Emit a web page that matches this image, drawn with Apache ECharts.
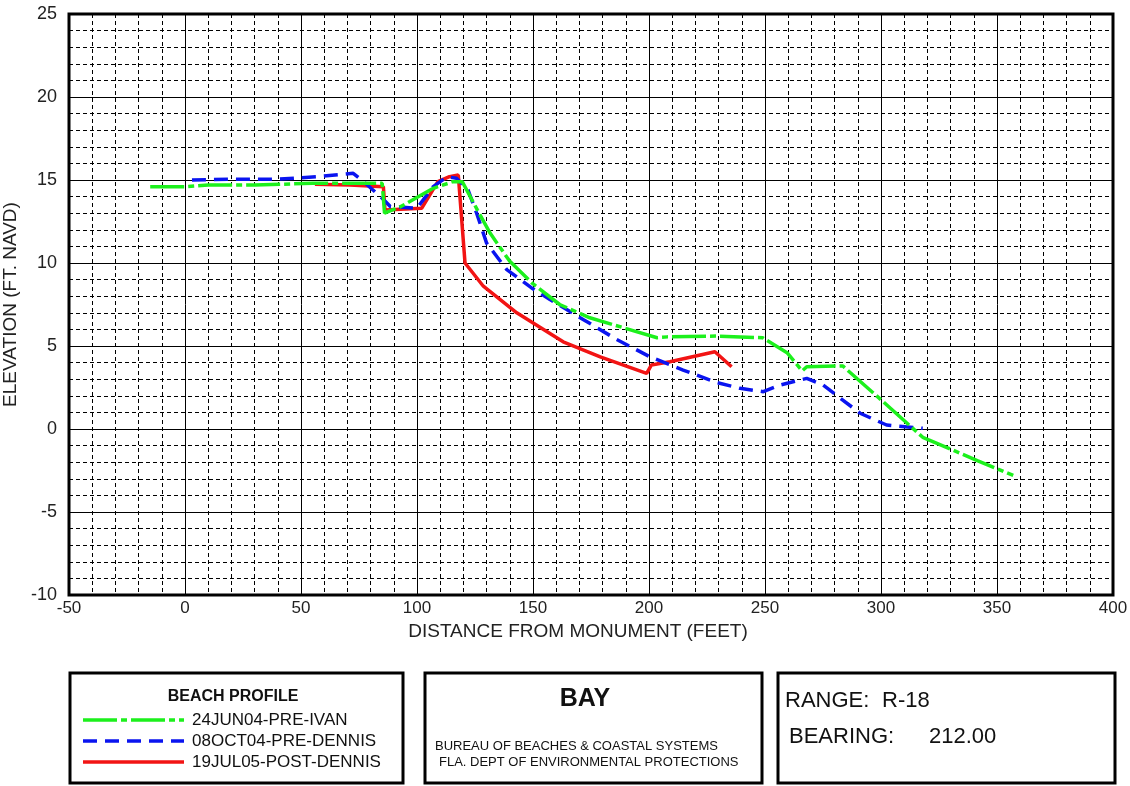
<!DOCTYPE html>
<html>
<head>
<meta charset="utf-8">
<script src="https://cdn.jsdelivr.net/npm/echarts@6/dist/echarts.min.js"></script>
<style>
html,body{margin:0;padding:0;background:#fff;}
#chart{width:1130px;height:786px;}
</style>
</head>
<body>
<div id="chart"></div>
<script>
// ---- data ----
const seriesNames = ['24JUN04-PRE-IVAN', '08OCT04-PRE-DENNIS', '19JUL05-POST-DENNIS'];

const ivanX = [-15, 0, 10, 30, 55, 85, 86, 93, 107, 115.5, 119.5, 126, 131.5, 140, 149.5, 161.5, 174.5, 189, 203.5, 208, 229, 249, 259.5, 266, 268, 283.5, 298.5, 318, 341.5, 357];
const ivanY = [14.6, 14.6, 14.7, 14.7, 14.8, 14.8, 13.0, 13.4, 14.5, 14.9, 14.9, 13.2, 11.8, 10.1, 8.8, 7.5, 6.7, 6.1, 5.5, 5.55, 5.6, 5.5, 4.6, 3.5, 3.75, 3.8, 1.95, -0.5, -1.9, -2.8];

const preDennisX = [3, 20, 40, 57, 72.5, 77, 85, 88.5, 100, 107, 113, 117, 122, 125.7, 130, 138.7, 149.4, 157.3, 171.6, 186, 200.4, 214.7, 229.2, 239.2, 249.3, 256.5, 268, 275, 291, 302.4, 318];
const preDennisY = [15.0, 15.05, 15.05, 15.2, 15.4, 14.9, 13.9, 13.4, 13.3, 14.6, 15.2, 15.1, 14.4, 13.0, 11.2, 9.6, 8.5, 7.8, 6.6, 5.4, 4.35, 3.55, 2.8, 2.45, 2.25, 2.65, 3.05, 2.65, 0.95, 0.24, 0.04];

const postDennisX = [56, 71, 85.5, 86.2, 102, 109, 114, 117.8, 120.7, 128.6, 143, 163, 179, 199, 201, 209, 228.4, 235.6];
const postDennisY = [14.75, 14.7, 14.6, 13.2, 13.3, 14.9, 15.2, 15.3, 10.0, 8.6, 7.0, 5.25, 4.35, 3.35, 3.85, 4.05, 4.65, 3.75];

const xTicks = [-50, 0, 50, 100, 150, 200, 250, 300, 350, 400];
const yTicks = [-10, -5, 0, 5, 10, 15, 20, 25];

const xAxisTitle = 'DISTANCE FROM MONUMENT (FEET)';
const yAxisTitle = 'ELEVATION (FT. NAVD)';
const legendTitle = 'BEACH PROFILE';
const countyName = 'BAY';
const agencyLines = ['BUREAU OF BEACHES & COASTAL SYSTEMS', 'FLA. DEPT OF ENVIRONMENTAL PROTECTIONS'];
const rangeLabel = 'RANGE:';
const rangeValue = 'R-18';
const bearingLabel = 'BEARING:';
const bearingValue = '212.00';

// ---- styles ----
const FONT = '"Liberation Sans", Arial, sans-serif';
const colors = ['#1cf01c', '#0a14f0', '#f21414'];
const dashes = [[34, 4, 6, 4], [14, 8], 'solid'];

function pairs(xs, ys) { return xs.map((x, i) => [x, ys[i]]); }
const seriesData = [pairs(ivanX, ivanY), pairs(preDennisX, preDennisY), pairs(postDennisX, postDennisY)];

const chart = echarts.init(document.getElementById('chart'), null, {renderer: 'canvas'});

const legendGraphics = [];
const legendYs = [720, 741, 762];
seriesNames.forEach((n, i) => {
  legendGraphics.push({
    type: 'line', shape: {x1: 83, y1: legendYs[i], x2: 184, y2: legendYs[i]},
    style: {stroke: colors[i], lineWidth: 3.5, lineDash: dashes[i] === 'solid' ? null : dashes[i]}
  });
  legendGraphics.push({
    type: 'text', x: 192, y: legendYs[i],
    style: {text: n, font: '17px ' + FONT, fill: '#111', textVerticalAlign: 'middle', textAlign: 'left'}
  });
});

const option = {
  backgroundColor: '#fff',
  animation: false,
  grid: {left: 69, top: 14, right: 17, bottom: 191, outerBoundsMode: 'none', containLabel: false,
         show: true, borderColor: '#000', borderWidth: 3, backgroundColor: 'transparent'},
  xAxis: {
    type: 'value', min: xTicks[0], max: xTicks[xTicks.length - 1], interval: 50,
    name: xAxisTitle, nameLocation: 'middle', nameGap: 26,
    nameTextStyle: {fontFamily: FONT, fontSize: 19, color: '#222', padding: [0, 26, 0, 0]},
    axisLine: {show: false},
    axisTick: {show: true, length: 4, lineStyle: {color: '#000'}},
    minorTick: {show: false, splitNumber: 5},
    axisLabel: {fontFamily: FONT, fontSize: 17, color: '#222', margin: 5},
    splitLine: {show: true, lineStyle: {color: '#000', width: 1}},
    minorSplitLine: {show: true, lineStyle: {color: '#000', width: 1, type: [4, 3]}}
  },
  yAxis: {
    type: 'value', min: yTicks[0], max: yTicks[yTicks.length - 1], interval: 5,
    name: yAxisTitle, nameLocation: 'middle', nameGap: 44, nameRotate: 90,
    nameTextStyle: {fontFamily: FONT, fontSize: 19, color: '#222'},
    axisLine: {show: false},
    axisTick: {show: false},
    minorTick: {show: false, splitNumber: 5},
    axisLabel: {fontFamily: FONT, fontSize: 18, color: '#222', margin: 12},
    splitLine: {show: true, lineStyle: {color: '#000', width: 1}},
    minorSplitLine: {show: true, lineStyle: {color: '#000', width: 1, type: [4, 3]}}
  },
  series: seriesNames.map((n, i) => ({
    name: n, type: 'line', data: seriesData[i], symbol: 'none', smooth: false, z: 3 + (2 - i),
    lineStyle: {color: colors[i], width: 3.5, type: dashes[i]}
  })),
  graphic: [
    {type: 'rect', shape: {x: 70, y: 673, width: 333, height: 110}, style: {fill: '#fff', stroke: '#000', lineWidth: 3}},
    {type: 'rect', shape: {x: 425, y: 673, width: 337, height: 110}, style: {fill: '#fff', stroke: '#000', lineWidth: 3}},
    {type: 'rect', shape: {x: 778, y: 673, width: 337, height: 110}, style: {fill: '#fff', stroke: '#000', lineWidth: 3}},
    {type: 'text', x: 233, y: 697, style: {text: legendTitle, font: 'bold 16px ' + FONT, fill: '#111', textAlign: 'center', textVerticalAlign: 'middle'}},
    ...legendGraphics,
    {type: 'text', x: 585, y: 699, style: {text: countyName, font: 'bold 25px ' + FONT, fill: '#111', textAlign: 'center', textVerticalAlign: 'middle'}},
    {type: 'text', x: 435, y: 746, style: {text: agencyLines[0], font: '13px ' + FONT, fill: '#111', textAlign: 'left', textVerticalAlign: 'middle'}},
    {type: 'text', x: 439, y: 762, style: {text: agencyLines[1], font: '13px ' + FONT, fill: '#111', textAlign: 'left', textVerticalAlign: 'middle'}},
    {type: 'text', x: 785, y: 701, style: {text: rangeLabel, font: '22px ' + FONT, fill: '#111', textAlign: 'left', textVerticalAlign: 'middle'}},
    {type: 'text', x: 882, y: 701, style: {text: rangeValue, font: '22px ' + FONT, fill: '#111', textAlign: 'left', textVerticalAlign: 'middle'}},
    {type: 'text', x: 789, y: 737, style: {text: bearingLabel, font: '22px ' + FONT, fill: '#111', textAlign: 'left', textVerticalAlign: 'middle'}},
    {type: 'text', x: 929, y: 737, style: {text: bearingValue, font: '22px ' + FONT, fill: '#111', textAlign: 'left', textVerticalAlign: 'middle'}}
  ]
};
chart.setOption(option);
</script>
</body>
</html>
